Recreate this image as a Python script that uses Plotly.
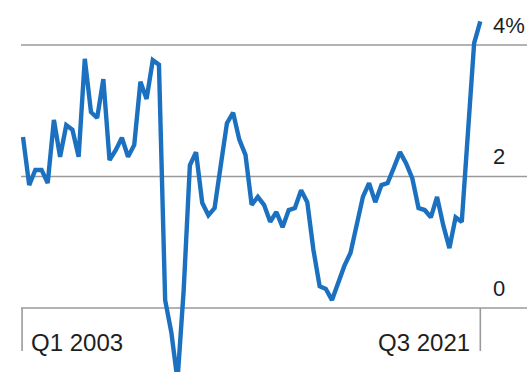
import plotly.graph_objects as go

# Quarterly series, Q1 2003 .. Q3 2021 (values in %)
start_year = 2003
values = [
    2.60, 1.87, 2.10, 2.10, 1.90, 2.86, 2.30, 2.78, 2.71, 2.30,
    3.79, 2.98, 2.89, 3.48, 2.25, 2.40, 2.59, 2.30, 2.48, 3.44,
    3.18, 3.77, 3.70, 0.12, -0.37, -1.10, 0.27, 2.17, 2.37, 1.60,
    1.41, 1.52, 2.17, 2.81, 2.97, 2.56, 2.33, 1.57, 1.69, 1.57,
    1.31, 1.46, 1.23, 1.49, 1.52, 1.79, 1.61, 0.88, 0.33, 0.29,
    0.12, 0.40, 0.64, 0.84, 1.26, 1.69, 1.90, 1.61, 1.87, 1.90,
    2.13, 2.37, 2.20, 1.97, 1.52, 1.49, 1.38, 1.69, 1.26, 0.91,
    1.38, 1.31, 2.67, 4.03, 4.36,
]
quarters = [f"Q{i % 4 + 1} {start_year + i // 4}" for i in range(len(values))]

y_ticks = [0, 2, 4]
y_tick_labels = ["0", "2", "4%"]
x_tick_labels = [quarters[0], quarters[-1]]

LINE_BLUE = "#1b71c0"
GRID = "#9a9a9a"
TEXT = "#1e1e1e"
FONT = "Liberation Sans, Arial, sans-serif"

fig = go.Figure()
fig.add_trace(go.Scatter(
    x=quarters, y=values, mode="lines",
    line=dict(color=LINE_BLUE, width=4.4, shape="linear"),
    hoverinfo="skip", showlegend=False,
))

# pixel mapping helpers (plot area = full 527x372 canvas)
W, H = 527, 372
x_step = 6.18
x0_px = 23
x_range = [-x0_px / x_step, (W - x0_px) / x_step]
px_per_unit = 65.75
zero_px = 308
y_range = [-(H - zero_px) / px_per_unit, zero_px / px_per_unit]

shapes = []
for v in y_ticks:
    shapes.append(dict(type="line", xref="paper", yref="y",
                       x0=21 / W, x1=1, y0=v, y1=v,
                       line=dict(color=GRID, width=1.6), layer="below"))
# vertical tick marks below the baseline at first and last quarter
for q in x_tick_labels:
    idx = quarters.index(q)
    xx = idx - 0.15 if idx == 0 else idx
    shapes.append(dict(type="line", xref="x", yref="paper",
                       x0=xx, x1=xx,
                       y0=(H - 308) / H, y1=(H - 351) / H,
                       line=dict(color=GRID, width=1.6), layer="below"))

annotations = []
for v, lab in zip(y_ticks, y_tick_labels):
    annotations.append(dict(x=491 / W, xref="paper", y=v, yref="y",
                            text=lab, showarrow=False, xanchor="left",
                            yanchor="middle", yshift=20,
                            font=dict(family=FONT, size=22, color=TEXT)))
annotations.append(dict(x=quarters.index(x_tick_labels[0]), xref="x",
                        y=(H - 342) / H, yref="paper", text=x_tick_labels[0],
                        showarrow=False, xanchor="left", yanchor="middle",
                        xshift=6, font=dict(family=FONT, size=24, color=TEXT)))
annotations.append(dict(x=quarters.index(x_tick_labels[1]), xref="x",
                        y=(H - 342) / H, yref="paper", text=x_tick_labels[1],
                        showarrow=False, xanchor="right", yanchor="middle",
                        xshift=-8, font=dict(family=FONT, size=24, color=TEXT)))

fig.update_layout(
    width=W, height=H,
    margin=dict(l=0, r=0, t=0, b=0),
    paper_bgcolor="white", plot_bgcolor="white",
    xaxis=dict(type="category", range=x_range, showgrid=False, zeroline=False,
               showticklabels=False, showline=False, fixedrange=True),
    yaxis=dict(range=y_range, showgrid=False, zeroline=False,
               showticklabels=False, showline=False, fixedrange=True),
    shapes=shapes, annotations=annotations,
)

fig.write_html("out.html", config={"displayModeBar": False})
